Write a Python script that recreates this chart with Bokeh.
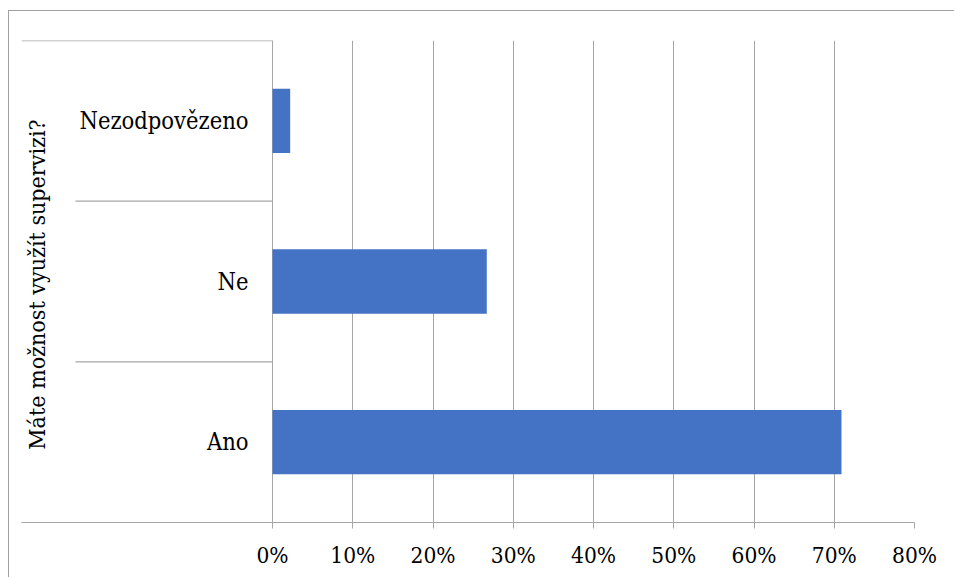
from math import pi
from bokeh.plotting import figure
from bokeh.models import (Range1d, FixedTicker, NumeralTickFormatter, ColumnDataSource, Label)
from bokeh.core.properties import value
from bokeh.embed import file_html
from bokeh.resources import INLINE

# ---- data ----
categories = ["Ano", "Ne", "Nezodpovězeno"]
shares = [0.709, 0.267, 0.022]
x_ticks = [0.0, 0.1, 0.2, 0.3, 0.4, 0.5, 0.6, 0.7, 0.8]
axis_title = "Máte možnost využít supervizi?"

FONT = "DejaVu Serif Condensed"
GRID = "#a6a6a6"
BAR = "#4472C4"

W, H = 946, 567
p = figure(width=W, height=H, output_backend="svg", toolbar_location=None,
           x_range=Range1d(-0.3128, 0.8), y_range=Range1d(0, 3),
           y_axis_location=None,
           min_border_left=12, min_border_right=41, min_border_top=29, min_border_bottom=56)
p.styles = {"margin-left": "8px", "margin-top": "10px",
            "border-left": "1px solid #a0a0a0", "border-top": "1px solid #a0a0a0"}
p.outline_line_color = None
p.background_fill_color = "white"
p.border_fill_color = "white"
for g in p.grid:
    if g.dimension == 1:
        g.visible = False

ax = p.xaxis[0]
ax.ticker = FixedTicker(ticks=x_ticks)
ax.formatter = NumeralTickFormatter(format="0%")
ax.axis_line_color = GRID
ax.axis_line_width = 1
ax.major_tick_line_color = GRID
ax.major_tick_out = 6
ax.major_tick_in = 0
ax.minor_tick_line_color = None
ax.major_label_text_font = FONT
ax.major_label_text_font_size = "22.5px"
ax.major_label_text_color = "black"
ax.major_label_standoff = 13
p.xgrid.grid_line_color = GRID
p.xgrid.grid_line_width = 1
p.xgrid.ticker = FixedTicker(ticks=x_ticks)

ys = [i + 0.5 for i in range(len(categories))]
src = ColumnDataSource(dict(y=ys, share=shares, cat=categories))
p.hbar(y="y", left=0, right="share", height=0.4, source=src,
       fill_color=BAR, line_color=None)

n = len(categories)
x_start = p.x_range.start
inner_start = -0.2455
p.segment(x0=[x_start] + [inner_start] * (n - 1), y0=[n] + list(range(n - 1, 0, -1)),
          x1=[0] * n, y1=[n] + list(range(n - 1, 0, -1)),
          line_color=GRID, line_width=1.3)

p.text(x=0, y="y", text="cat", source=src, x_offset=-24,
       text_align="right", text_baseline="middle",
       text_font=value(FONT), text_font_size="23.5px", text_color="black")

p.add_layout(Label(x=-0.293, y=n / 2, y_offset=-3, text=axis_title, angle=pi / 2,
                   text_align="center", text_baseline="middle",
                   text_font=FONT, text_font_size="23px", text_color="black"))

open("out.html", "w").write(file_html(p, INLINE))
